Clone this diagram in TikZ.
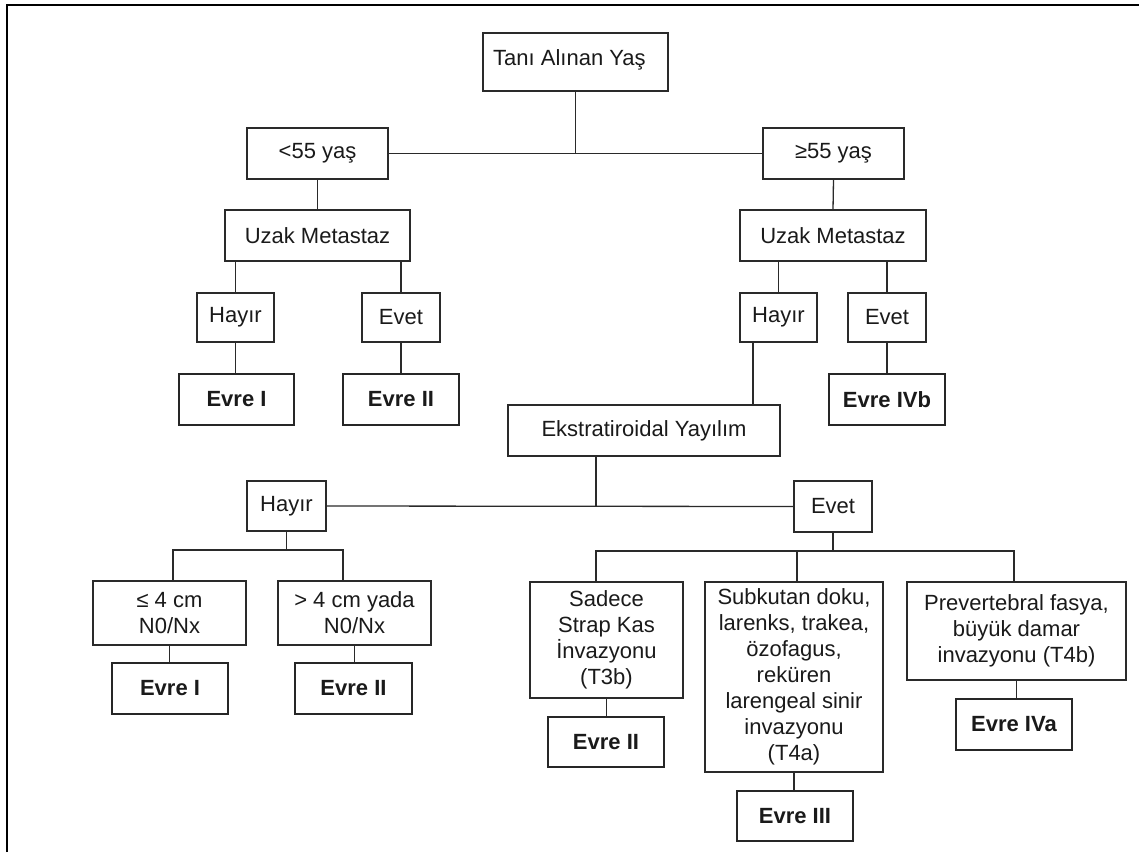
\documentclass[tikz,border=0pt]{standalone}
\usepackage{fontspec}
\setmainfont{Liberation Sans}
\definecolor{linec}{HTML}{2A2A2A}
\definecolor{txtc}{HTML}{1A1A1A}
\tikzset{
  box/.style={draw=linec, line width=1.3pt, inner sep=0pt, align=center, text=txtc,
    font=\fontsize{22}{26}\selectfont},
  evre/.style={box, line width=2.3pt, draw=black!85, font=\fontsize{22}{26}\selectfont\bfseries},
  conn/.style={draw=linec, line width=1.3pt},
  frameline/.style={draw=black, line width=2.5pt},
}
\begin{document}
\begin{tikzpicture}[x=1pt, y=-1pt]
\useasboundingbox (0,0) rectangle (1139,852);
\fill[white] (0,0) rectangle (1139,852);
% frame
\coordinate (fbl) at (7,852);
\coordinate (ftl) at (7,5);
\coordinate (ftr) at (1139,5);
\draw[frameline] (fbl) -- (ftl) -- (ftr);

% top
\node[box, minimum width=185pt, minimum height=58pt] (tani) at (575.5,62) {};
\node[anchor=base west, inner sep=0pt, text=txtc, font=\fontsize{22}{26}\selectfont] (tanitxt) at (493,65) {Tanı Alınan Yaş};
\node[box, minimum width=141pt, minimum height=51pt] (lt55) at (317.5,153.5) {<55 yaş};
\node[box, minimum width=141pt, minimum height=51pt] (ge55) at (833.5,153.5) {≥55 yaş};

% left branch
\node[box, minimum width=185pt, minimum height=51pt] (uzakL) at (317.5,235.5) {Uzak Metastaz};
\node[box, minimum width=77pt, minimum height=49pt] (hayirL) at (235.5,317.5) {Hayır};
\node[box, minimum width=78pt, minimum height=49pt] (evetL) at (401,317.5) {Evet};
\node[evre, minimum width=115pt, minimum height=51pt] (evreIL) at (236.5,399.5) {Evre I};
\node[evre, minimum width=116pt, minimum height=51pt] (evreIIL) at (401,399.5) {Evre II};

% right branch
\node[box, minimum width=186pt, minimum height=51pt] (uzakR) at (833,235.5) {Uzak Metastaz};
\node[box, minimum width=77pt, minimum height=49pt] (hayirR) at (778.5,317.5) {Hayır};
\node[box, minimum width=78pt, minimum height=49pt] (evetR) at (887,317.5) {Evet};
\node[evre, minimum width=116pt, minimum height=51pt] (evreIVb) at (887,399.5) {Evre IVb};

\node[box, minimum width=272pt, minimum height=51pt] (ekstra) at (644,430.5) {Ekstratiroidal Yayılım};
\node[box, minimum width=79pt, minimum height=50pt] (hayir2) at (286.5,506) {Hayır};
\node[box, minimum width=78pt, minimum height=51pt] (evet2) at (833,506.5) {Evet};

% lower left
\node[box, minimum width=153pt, minimum height=64pt] (le4) at (169.5,613) {≤ 4 cm\\N0/Nx};
\node[box, minimum width=153pt, minimum height=64pt] (gt4) at (354.5,613) {> 4 cm yada\\N0/Nx};
\node[evre, minimum width=116pt, minimum height=51pt] (evreI2) at (170,688.5) {Evre I};
\node[evre, minimum width=117pt, minimum height=51pt] (evreII2) at (353.5,688.5) {Evre II};

% lower right
\node[box, minimum width=153pt, minimum height=116pt] (sadece) at (606.5,640) {Sadece\\Strap Kas\\İnvazyonu\\(T3b)};
\node[box, minimum width=178pt, minimum height=190pt] (subk) at (794,677) {Subkutan doku,\\larenks, trakea,\\özofagus,\\reküren\\larengeal sinir\\invazyonu\\(T4a)};
\node[box, minimum width=219pt, minimum height=98pt] (prev) at (1016.5,631) {Prevertebral fasya,\\büyük damar\\invazyonu (T4b)};
\node[evre, minimum width=116pt, minimum height=50pt] (evreII3) at (606,742) {Evre II};
\node[evre, minimum width=116pt, minimum height=50pt] (evreIII) at (795,816) {Evre III};
\node[evre, minimum width=116pt, minimum height=51pt] (evreIVa) at (1014,724.5) {Evre IVa};

% connectors
\draw[conn] (tani.south) -- (tani.south |- lt55.east);
\draw[conn] (lt55.east) -- (ge55.west);
\draw[conn] (lt55.south) -- (uzakL.north);
\draw[conn] (ge55.south) -- (uzakR.north);
\draw[conn] (hayirL.north |- uzakL.south) -- (hayirL.north);
\draw[conn] (evetL.north |- uzakL.south) -- (evetL.north);
\draw[conn] (hayirL.south) -- (hayirL.south |- evreIL.north);
\draw[conn] (evetL.south) -- (evetL.south |- evreIIL.north);
\draw[conn] (hayirR.north |- uzakR.south) -- (hayirR.north);
\draw[conn] (evetR.north |- uzakR.south) -- (evetR.north);
\draw[conn] (evetR.south) -- (evetR.south |- evreIVb.north);
\coordinate (hrx) at (753,0);
\draw[conn] (hrx |- hayirR.south) -- (hrx |- ekstra.north);
\coordinate (ekx) at (596,0);
\draw[conn] (ekx |- ekstra.south) -- (ekx |- hayir2.east);
\draw[conn] (hayir2.east) -- (evet2.west);
\coordinate (busL) at (0,550);
\coordinate (dLa) at (173,0);
\coordinate (dLb) at (343,0);
\draw[conn] (hayir2.south) -- (hayir2.south |- busL);
\draw[conn] (dLa |- le4.north) -- (dLa |- busL) -- (dLb |- busL) -- (dLb |- gt4.north);
\draw[conn] (le4.south) -- (le4.south |- evreI2.north);
\draw[conn] (gt4.south) -- (gt4.south |- evreII2.north);
\coordinate (busR) at (0,551);
\coordinate (dRa) at (596,0);
\coordinate (dRb) at (797,0);
\coordinate (dRc) at (1014,0);
\draw[conn] (evet2.south) -- (evet2.south |- busR);
\draw[conn] (dRa |- sadece.north) -- (dRa |- busR) -- (dRc |- busR) -- (dRc |- prev.north);
\draw[conn] (dRb |- busR) -- (dRb |- subk.north);
\draw[conn] (sadece.south) -- (sadece.south |- evreII3.north);
\draw[conn] (subk.south) -- (subk.south |- evreIII.north);
\draw[conn] (prev.south) -- (prev.south |- evreIVa.north);
\end{tikzpicture}
\end{document}
